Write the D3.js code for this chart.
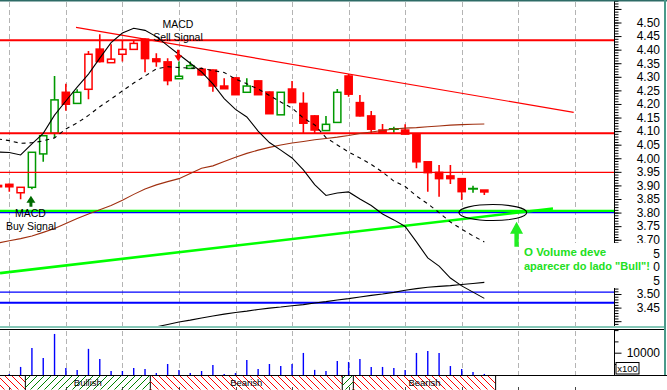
<!DOCTYPE html>
<html>
<head>
<meta charset="utf-8">
<style>
    body { margin: 0; background: #fff; }
    svg { display: block; font-family: "Liberation Sans", Arial, sans-serif; }
</style>
</head>
<body>
<svg id="chart" width="667" height="390"></svg>
<script src="https://cdn.jsdelivr.net/npm/d3@7"></script>
<script>
    // bar -1 is the one cut off at the left edge
    let barIndex = d3.range(-1, 43)
    let opens  = [3.900, 3.904, 3.873, 3.893, 4.016, 4.092, 4.243, 4.202, 4.254, 4.402, 4.352, 4.383, 4.401, 4.439, 4.366, 4.355, 4.293, 4.331, 4.328, 4.325, 4.266, 4.296, 4.243, 4.285, 4.244, 4.160, 4.255, 4.202, 4.156, 4.102, 4.132, 4.303, 4.205, 4.156, 4.104, 4.106, 4.104, 4.089, 3.987, 3.948, 3.935, 3.925, 3.886, 3.883]
    let highs  = [3.901, 3.907, 3.893, 4.023, 4.084, 4.303, 4.274, 4.254, 4.395, 4.457, 4.420, 4.436, 4.433, 4.441, 4.387, 4.368, 4.356, 4.356, 4.334, 4.327, 4.295, 4.297, 4.295, 4.286, 4.246, 4.244, 4.285, 4.243, 4.158, 4.156, 4.255, 4.310, 4.233, 4.174, 4.126, 4.116, 4.125, 4.089, 3.987, 3.975, 3.975, 3.925, 3.899, 3.883]
    let lows   = [3.893, 3.877, 3.849, 3.886, 3.987, 4.076, 4.175, 4.202, 4.217, 4.353, 4.351, 4.356, 4.401, 4.317, 4.337, 4.269, 4.292, 4.331, 4.305, 4.245, 4.255, 4.233, 4.242, 4.233, 4.163, 4.159, 4.204, 4.092, 4.092, 4.100, 4.132, 4.227, 4.154, 4.092, 4.093, 4.094, 4.088, 3.963, 3.877, 3.858, 3.905, 3.846, 3.873, 3.865]
    let closes = [3.895, 3.895, 3.893, 4.022, 4.083, 4.215, 4.199, 4.243, 4.383, 4.356, 4.365, 4.401, 4.423, 4.367, 4.356, 4.286, 4.302, 4.341, 4.307, 4.266, 4.256, 4.234, 4.266, 4.234, 4.164, 4.243, 4.205, 4.129, 4.104, 4.125, 4.243, 4.236, 4.156, 4.107, 4.094, 4.108, 4.089, 3.987, 3.947, 3.925, 3.925, 3.877, 3.888, 3.876]
    let tones  = ["down","down","down","up","up","up","down","up","down","down","down","down","down","down","down","down","up","up","down","down","down","down","up","down","down","up","down","down","down","up","up","down","down","down","down","up","down","down","down","down","down","down","up","down"]
    let volumes = [1500, 600, 3700, 12100, 7700, 18300, 3200, 2400, 11700, 7200, 1900, 1900, 3200, 2800, 1000, 5000, 2400, 1000, 1900, 4600, 600, 1000, 6800, 2800, 5000, 4100, 5000, 9900, 2400, 1900, 6300, 5900, 7200, 3700, 3700, 3200, 2400, 9900, 10800, 9900, 4100, 2800, 1500, 600]

    // overlays
    let slowAverage = [3.688, 3.696, 3.704, 3.714, 3.727, 3.741, 3.760, 3.778, 3.795, 3.810, 3.826, 3.845, 3.867, 3.887, 3.902, 3.914, 3.925, 3.944, 3.963, 3.972, 3.988, 4.004, 4.018, 4.030, 4.040, 4.049, 4.056, 4.062, 4.068, 4.073, 4.078, 4.084, 4.091, 4.097, 4.102, 4.108, 4.111, 4.113, 4.116, 4.119, 4.122, 4.124, 4.125, 4.126]
    let macdLine = [4.023, 4.021, 4.012, 4.053, 4.092, 4.159, 4.211, 4.262, 4.310, 4.369, 4.426, 4.461, 4.479, 4.471, 4.448, 4.415, 4.382, 4.350, 4.318, 4.274, 4.220, 4.180, 4.152, 4.100, 4.058, 4.030, 4.001, 3.957, 3.903, 3.863, 3.872, 3.876, 3.850, 3.826, 3.795, 3.773, 3.749, 3.692, 3.633, 3.603, 3.559, 3.530, 3.507, 3.484]
    let signalLine = [4.071, 4.065, 4.055, 4.057, 4.064, 4.075, 4.108, 4.130, 4.158, 4.190, 4.218, 4.248, 4.277, 4.303, 4.329, 4.337, 4.334, 4.332, 4.331, 4.323, 4.316, 4.292, 4.274, 4.255, 4.231, 4.207, 4.185, 4.148, 4.123, 4.076, 4.049, 4.023, 4.001, 3.977, 3.949, 3.916, 3.896, 3.861, 3.832, 3.800, 3.765, 3.739, 3.714, 3.692]
    let longAverage = [null, null, null, null, null, null, null, null, null, null, null, null, null, 3.369, 3.379, 3.388, 3.397, 3.404, 3.412, 3.419, 3.426, 3.432, 3.437, 3.443, 3.448, 3.452, 3.457, 3.461, 3.467, 3.472, 3.478, 3.483, 3.489, 3.495, 3.500, 3.506, 3.514, 3.520, 3.525, 3.528, 3.531, 3.535, 3.539, 3.543]

    // drawn lines: levels and trendlines [bar, price]
    let redLevels = [4.435, 4.092, 3.948]
    let greenLevel = 3.806
    let blueLevels = [3.800, 3.507, 3.468]
    let redTrend = [[5.9, 4.482], [49.9, 4.169]]
    let greenTrend = [[-0.82, 3.577], [48.07, 3.815]]

    // expert advisor periods along the bottom
    let bandStarts = [-2, 1.42, 12.47, 29.44, 30.42]
    let bandEnds = [1.42, 12.47, 29.44, 30.42, 43.0]
    let bandTrend = ["Bearish", "Bullish", "Bearish", "Bullish", "Bearish"]

    let priceLabels = d3.range(3.45, 4.5001, 0.05)
    let volumeLabel = 10000

    let svg = d3.select("#chart")
    let plotRight = 614.5

    let x = d3.scaleLinear().domain([0, 50]).range([9.3, 574.8])
    let y = d3.scaleLinear().domain([3.45, 4.50]).range([307.6, 22.5])
    let yVol = d3.scaleLinear().domain([0, 20000]).range([375.3, 330.1])

    let defs = svg.append("defs")
    defs.append("clipPath").attr("id", "priceClip")
        .append("rect").attr("x", 0).attr("y", 2).attr("width", plotRight).attr("height", 324)

    let bearHatch = defs.append("pattern").attr("id", "bearHatch")
        .attr("patternUnits", "userSpaceOnUse").attr("width", 7).attr("height", 7)
    bearHatch.append("path").attr("d", "M0,0L7,7M-1,6L1,8M6,-1L8,1")
        .attr("stroke", "#ff0000").attr("stroke-width", 1)
    let bullHatch = defs.append("pattern").attr("id", "bullHatch")
        .attr("patternUnits", "userSpaceOnUse").attr("width", 7).attr("height", 7)
    bullHatch.append("path").attr("d", "M0,7L7,0M-1,1L1,-1M6,8L8,6")
        .attr("stroke", "#008000").attr("stroke-width", 1)

    svg.append("rect").attr("width", 667).attr("height", 390).attr("fill", "white")

    // dashed vertical grid, every 5 bars
    let gridBars = d3.range(0, 51, 5)
    let grid = svg.append("g").attr("stroke", "#b4b4b4").attr("stroke-dasharray", "5,3")
    grid.selectAll(".gp").data(gridBars).enter().append("line")
        .attr("x1", d => Math.round(x(d)) + 0.5).attr("x2", d => Math.round(x(d)) + 0.5)
        .attr("y1", 2).attr("y2", 326)
    grid.selectAll(".gv").data(gridBars).enter().append("line")
        .attr("x1", d => Math.round(x(d)) + 0.5).attr("x2", d => Math.round(x(d)) + 0.5)
        .attr("y1", 331).attr("y2", 375)

    let price = svg.append("g").attr("clip-path", "url(#priceClip)")

    // candles
    let bars = barIndex.map((d, k) => ({ i: d, o: opens[k], h: highs[k], l: lows[k], c: closes[k], tone: tones[k] }))
    let colour = t => t === "up" ? "#009900" : "#ff0000"

    bars.forEach(b => {
        let g = price.append("g").attr("stroke", colour(b.tone))
        let cx = x(b.i)
        if (Math.abs(b.o - b.c) < 0.003) {
            g.append("line").attr("x1", cx).attr("x2", cx).attr("y1", y(b.h)).attr("y2", y(b.l)).attr("stroke-width", 1.6)
            g.append("line").attr("x1", cx - 5).attr("x2", cx + 5).attr("y1", y(b.c)).attr("y2", y(b.c)).attr("stroke-width", 2)
            return
        }
        let top = y(Math.max(b.o, b.c))
        let bot = y(Math.min(b.o, b.c))
        g.append("line").attr("x1", cx).attr("x2", cx).attr("y1", y(b.h)).attr("y2", top).attr("stroke-width", 1.6)
        g.append("line").attr("x1", cx).attr("x2", cx).attr("y1", bot).attr("y2", y(b.l)).attr("stroke-width", 1.6)
        g.append("rect")
            .attr("x", cx - 3.6).attr("width", 7.2)
            .attr("y", top).attr("height", Math.max(bot - top, 0.8))
            .attr("fill", b.c < b.o ? colour(b.tone) : "white")
            .attr("stroke-width", 1.5)
    })

    // horizontal levels
    price.selectAll(".red").data(redLevels).enter().append("line")
        .attr("x1", 0).attr("x2", plotRight).attr("y1", d => y(d)).attr("y2", d => y(d))
        .attr("stroke", "#ff0000").attr("stroke-width", (d, k) => k < 2 ? 2 : 1.2)
    price.append("line")
        .attr("x1", 0).attr("x2", plotRight).attr("y1", y(greenLevel)).attr("y2", y(greenLevel))
        .attr("stroke", "#00ff00").attr("stroke-width", 2.2)
    price.selectAll(".blue").data(blueLevels).enter().append("line")
        .attr("x1", 0).attr("x2", plotRight).attr("y1", d => y(d)).attr("y2", d => y(d))
        .attr("stroke", "#0000ff").attr("stroke-width", (d, k) => k === 2 ? 2 : 1.2)

    let line = d3.line().x(d => x(d[0])).y(d => y(d[1]))
    price.append("path").attr("d", line(redTrend))
        .attr("stroke", "#ff0000").attr("stroke-width", 1.2).attr("fill", "none")
    price.append("path").attr("d", line(greenTrend))
        .attr("stroke", "#00ff00").attr("stroke-width", 2.6).attr("fill", "none")

    // indicator overlays
    let overlay = (values, stroke, dash) => {
        let pts = barIndex.map((d, k) => [d, values[k]])
        price.append("path")
            .attr("d", d3.line().defined(d => d[1] != null).x(d => x(d[0])).y(d => y(d[1]))(pts))
            .attr("fill", "none").attr("stroke", stroke).attr("stroke-width", 1.1)
            .attr("stroke-dasharray", dash)
    }
    overlay(slowAverage, "#a03010", null)
    overlay(longAverage, "#000", null)
    overlay(macdLine, "#000", null)
    overlay(signalLine, "#000", "4,4")

    // circled area and arrows
    price.append("ellipse")
        .attr("cx", x(42.75)).attr("cy", y(3.80))
        .attr("rx", x(3) - x(0)).attr("ry", 8)
        .attr("fill", "none").attr("stroke", "#000").attr("stroke-width", 1.1)

    let upArrow = (cx, tip, head, len, w, fill) => {
        let d = `M${cx},${tip}L${cx - w},${tip + head}L${cx - w / 3},${tip + head}L${cx - w / 3},${tip + len}` +
                `L${cx + w / 3},${tip + len}L${cx + w / 3},${tip + head}L${cx + w},${tip + head}Z`
        price.append("path").attr("d", d).attr("fill", fill)
    }
    upArrow(x(2) - 1, y(3.862), 7, 11, 4.5, "#006a00")
    upArrow(x(44.85), y(3.7665), 12, 25, 6.5, "#22ee22")

    // sell arrow points down over bar 15
    let sx = x(15) - 0.7, sTip = y(4.357)
    price.append("path")
        .attr("d", `M${sx},${sTip}L${sx - 3.8},${sTip - 6}L${sx - 1.3},${sTip - 6}L${sx - 1.3},${sTip - 11.6}` +
                   `L${sx + 1.3},${sTip - 11.6}L${sx + 1.3},${sTip - 6}L${sx + 3.8},${sTip - 6}Z`)
        .attr("fill", "#ff0000")

    // annotations
    let note = svg.append("g").attr("font-size", "10.5px").attr("fill", "#000").attr("text-anchor", "middle")
    note.append("text").attr("x", x(15) - 1).attr("y", 28).text("MACD")
    note.append("text").attr("x", x(15) - 1).attr("y", 41).text("Sell Signal")
    note.append("text").attr("x", 30.5).attr("y", 216.5).text("MACD")
    note.append("text").attr("x", 31).attr("y", 230).text("Buy Signal")

    // volume bars
    let vol = barIndex.map((d, k) => [d, volumes[k]])
    svg.append("g").selectAll("line").data(vol).enter().append("line")
        .attr("x1", d => x(d[0])).attr("x2", d => x(d[0]))
        .attr("y1", yVol(0)).attr("y2", d => yVol(d[1]))
        .attr("stroke", "#0000ff").attr("stroke-width", 1.4)

    // bottom band
    let band = svg.append("g")
    bandTrend.forEach((t, k) => {
        let x0 = Math.max(0, x(bandStarts[k])), x1 = x(bandEnds[k])
        band.append("rect").attr("x", x0).attr("y", 375.5).attr("width", x1 - x0).attr("height", 14)
            .attr("fill", t === "Bullish" ? "url(#bullHatch)" : "url(#bearHatch)")
        band.append("line").attr("x1", x1).attr("x2", x1).attr("y1", 375.5).attr("y2", 390)
            .attr("stroke", "#000").attr("stroke-width", 1)
        if (x1 - x0 > 40) {
            band.append("text").attr("x", (x0 + x1) / 2).attr("y", 386).attr("text-anchor", "middle")
                .attr("font-size", "9.5px").text(t)
        }
    })
    band.append("line").attr("x1", 0).attr("x2", 667).attr("y1", 375.5).attr("y2", 375.5).attr("stroke", "#000")
    band.selectAll(".tk").data(gridBars).enter().append("line")
        .attr("x1", d => Math.round(x(d)) + 0.5).attr("x2", d => Math.round(x(d)) + 0.5)
        .attr("y1", 387).attr("y2", 390).attr("stroke", "#444")

    // right axes
    let axisG = svg.append("g").attr("transform", `translate(${plotRight},0)`)
    axisG.append("line").attr("x1", 0).attr("x2", 0).attr("y1", 0).attr("y2", 326).attr("stroke", "#000")
    axisG.append("line").attr("x1", 0).attr("x2", 0).attr("y1", 330).attr("y2", 375).attr("stroke", "#000")

    let minorAxis = d3.axisRight(y).tickValues(d3.range(3.39, 4.585, 0.01)).tickSize(4).tickFormat("")
    axisG.append("g").call(minorAxis).call(g => g.select(".domain").remove())
    let majorAxis = d3.axisRight(y).tickValues(d3.range(3.40, 4.555, 0.05)).tickSize(7)
        .tickFormat(d => priceLabels.some(p => Math.abs(p - d) < 1e-6) ? d3.format(".2f")(d) : "")
    axisG.append("g").call(majorAxis)
        .call(g => g.select(".domain").remove())
        .call(g => g.selectAll("text").attr("x", 45.5).attr("text-anchor", "end")
            .attr("font-size", "12px").attr("font-family", "Liberation Sans, Arial, sans-serif").attr("fill", "#000"))

    let volAxis = d3.axisRight(yVol).tickValues([5000, 10000, 15000, 20000])
        .tickSize(4).tickFormat(d => d === volumeLabel ? d : "")
    axisG.append("g").call(volAxis)
        .call(g => g.select(".domain").remove())
        .call(g => g.selectAll(".tick line").attr("x2", d => d === volumeLabel ? 7 : 4))
        .call(g => g.selectAll("text").attr("x", 45.5).attr("text-anchor", "end")
            .attr("font-size", "12px").attr("font-family", "Liberation Sans, Arial, sans-serif").attr("fill", "#000"))
    axisG.append("rect").attr("x", 1.5).attr("y", 362.5).attr("width", 23).attr("height", 11.5)
        .attr("fill", "white").attr("stroke", "#000")
    axisG.append("text").attr("x", 13).attr("y", 372).attr("text-anchor", "middle")
        .attr("font-size", "9.5px").text("x100")

    // panel separators and frame
    svg.append("rect").attr("x", 0).attr("y", 326).attr("width", 665).attr("height", 2).attr("fill", "#86c8b8")
    svg.append("line").attr("x1", 0).attr("x2", 665).attr("y1", 329.5).attr("y2", 329.5).attr("stroke", "#000")
    svg.append("rect").attr("x", 0).attr("y", 0).attr("width", 667).attr("height", 1.5).attr("fill", "#2d6b66")
    svg.append("rect").attr("x", 664).attr("y", 0).attr("width", 2).attr("height", 375).attr("fill", "#4a9a8a")

    // comment box over the axis
    svg.append("rect").attr("x", 521).attr("y", 243).attr("width", 132).attr("height", 45).attr("fill", "white")
    let tip = svg.append("g").attr("font-weight", "bold").attr("fill", "#22e022")
    tip.append("text").attr("x", 524).attr("y", 255.5).attr("font-size", "11.5px").text("O Volume deve")
    tip.append("text").attr("x", 524).attr("y", 270.3).attr("font-size", "11px").text("aparecer do lado \"Bull\"!")
</script>
</body>
</html>
